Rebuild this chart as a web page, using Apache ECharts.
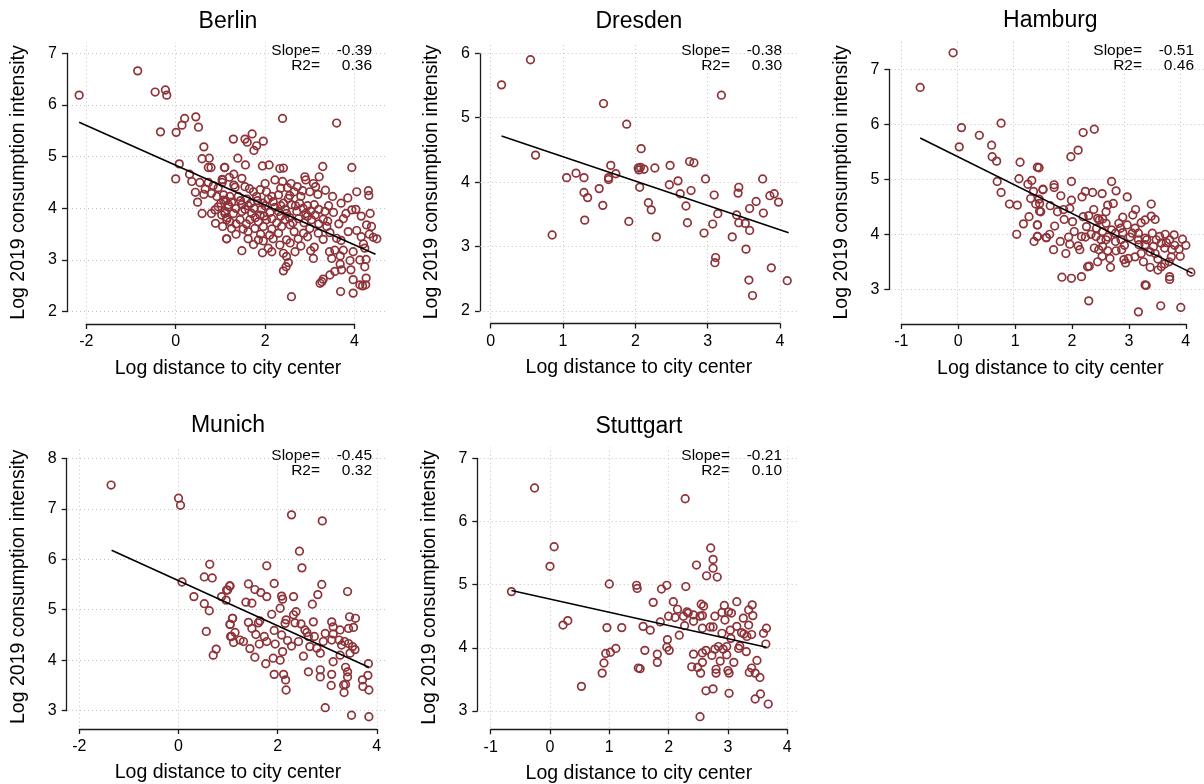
<!DOCTYPE html>
<html><head><meta charset="utf-8">
<script src="https://cdn.jsdelivr.net/npm/echarts@6/dist/echarts.min.js"></script>
<style>html,body{margin:0;padding:0;background:#fff}#c{width:1204px;height:784px}</style>
</head><body><div id="c"></div>
<script>
const cities = ['Berlin', 'Dresden', 'Hamburg', 'Munich', 'Stuttgart'];
const slopes = ['-0.39', '-0.38', '-0.51', '-0.45', '-0.21'];
const r2s = ['0.36', '0.30', '0.46', '0.32', '0.10'];
const xTitle = 'Log distance to city center';
const yTitle = 'Log 2019 consumption intensity';
const xTicks = [[-2, 0, 2, 4], [0, 1, 2, 3, 4], [-1, 0, 1, 2, 3, 4], [-2, 0, 2, 4], [-1, 0, 1, 2, 3, 4]];
const yTicks = [[2, 3, 4, 5, 6, 7], [2, 3, 4, 5, 6], [3, 4, 5, 6, 7], [3, 4, 5, 6, 7, 8], [3, 4, 5, 6, 7]];

const berlinPoints = [
[-2.16,6.19],[-0.85,6.66],[-0.46,6.25],[-0.23,6.29],[-0.20,6.19],[-0.34,5.48],[0.01,5.47],[0.14,5.61],[0.20,5.74],[0.45,5.77],[0.51,5.57],[0.63,5.19],[0.59,4.96],[0.75,4.97],[0.73,4.79],[0.79,4.79],[1.09,4.79],[0.08,4.86],[0.00,4.57],[0.31,4.66],[0.36,4.52],[0.54,4.50],[0.73,4.50],[0.84,4.44],[0.66,4.37],[0.44,4.31],[0.63,4.27],[0.80,4.29],[0.92,4.23],[1.04,4.56],[1.04,4.50],[0.49,4.12],[0.59,3.90],[0.80,3.90],[0.89,3.71],[1.14,3.41],[0.88,3.97],[0.95,4.03],[1.07,4.16],[1.10,3.90],[1.18,4.03],[1.14,3.78],[1.03,3.87],
[2.39,5.74],[3.60,5.65],[1.29,5.34],[1.55,5.34],[1.60,5.28],[1.71,5.44],[1.81,5.21],[1.96,5.30],[1.75,5.12],
[1.39,4.97],[1.56,4.84],[1.10,4.79],[1.94,4.82],[2.09,4.84],[2.33,4.77],[2.41,4.78],[3.29,4.81],[3.94,4.79],
[1.30,4.66],[1.48,4.58],[1.05,4.55],[2.22,4.55],[2.39,4.52],[2.58,4.48],[2.89,4.61],[2.91,4.55],[3.08,4.48],[3.21,4.61],[3.13,4.42],[1.33,4.41],[1.55,4.42],[1.74,4.32],[1.89,4.36],[2.03,4.32],[2.35,4.39],[2.84,4.34],[3.00,4.32],[3.18,4.27],[4.05,4.32],[4.31,4.34],[4.32,4.25],
[1.07,4.26],[1.21,4.23],[1.40,4.23],[1.59,4.18],[1.81,4.23],[2.15,4.23],[2.30,4.26],[2.52,4.19],[2.65,4.32],[2.80,4.23],[3.51,4.23],[1.01,4.10],[1.18,4.07],[1.48,4.07],[1.68,4.10],[1.95,4.10],[2.18,4.13],[2.41,4.10],[2.59,4.07],[2.77,4.10],[2.95,4.05],[3.10,4.07],
[1.10,3.94],[1.29,3.90],[1.48,3.94],[1.70,3.90],[1.89,3.87],[2.11,3.92],[2.30,3.94],[2.48,3.90],[2.71,3.94],[2.91,3.90],[3.12,3.87],[3.34,3.94],[3.53,3.92],[3.81,3.90],[3.94,3.97],[4.03,3.98],[1.21,3.74],[1.44,3.78],[1.66,3.78],[1.85,3.74],[2.03,3.78],[2.26,3.72],[2.45,3.78],[2.62,3.72],[2.87,3.72],[3.04,3.78],[3.30,3.79],
[1.05,3.65],[1.25,3.61],[1.51,3.60],[1.77,3.61],[1.96,3.65],[2.15,3.60],[2.37,3.65],[2.56,3.68],[2.86,3.52],[3.00,3.61],[3.19,3.52],[3.38,3.65],[3.45,3.53],[3.60,3.42],[3.86,3.55],[4.05,3.57],[4.27,3.68],[4.38,3.65],[4.33,3.50],[4.42,3.44],[4.50,3.41],[1.14,3.41],[1.62,3.41],[1.85,3.39],[1.96,3.37],[2.18,3.41],[2.48,3.39],[2.74,3.41],
[1.74,3.30],[2.07,3.23],[2.33,3.29],[2.56,3.33],[2.80,3.27],[1.48,3.18],[1.94,3.14],[2.15,3.16],[2.41,3.13],[2.67,3.16],[3.02,3.18],[3.10,3.25],[3.44,3.16],[3.56,3.19],[3.75,3.19],[3.97,3.16],[4.23,3.23],[4.20,3.31],[2.48,3.07],[3.08,3.03],[3.49,3.03],[3.68,3.08],[4.12,3.00],[4.26,3.01],
[2.52,2.95],[2.47,2.87],[2.41,2.79],[3.90,2.99],[3.68,2.92],[3.56,2.78],[3.71,2.81],[3.92,2.81],[4.23,2.87],[3.45,2.71],[3.30,2.63],[3.23,2.55],[3.27,2.58],[3.97,2.62],[4.26,2.65],[4.12,2.52],[4.18,2.50],[4.25,2.52],[3.69,2.39],[3.97,2.36],[2.59,2.29],
[1.12,4.15],[1.25,4.12],[1.35,4.00],[1.45,4.15],[1.55,3.98],[1.62,4.05],[1.75,4.00],[1.83,4.15],[1.92,3.98],[2.00,4.05],[2.07,4.18],[2.22,4.02],[2.35,4.05],[2.45,3.98],[2.55,4.25],[2.68,4.05],[2.85,4.00],[3.02,3.95],[3.20,3.98],[3.42,4.05],[1.15,3.82],[1.35,3.70],[1.58,3.70],[1.78,3.82],[1.98,3.85],[2.15,3.80],[2.35,3.85],[2.55,3.82],[2.75,3.80],[2.95,3.85],[3.20,3.70],[3.40,3.75],[3.65,3.70],[3.75,3.80],[1.35,3.50],[1.62,3.55],[1.90,3.50],[2.10,3.48],[2.30,3.52],[2.65,3.55],[2.95,3.45],[3.30,3.40],[3.70,3.38],[4.15,3.45],[1.30,4.45],[1.65,4.38],[2.00,4.48],[2.50,4.40],[2.72,4.42],[3.35,4.35],[3.70,4.10],[3.85,4.20],[4.15,3.85],[4.35,3.90],[0.95,4.40],[1.20,4.60]
];
const dresdenPoints = [
[0.15,5.51],[0.55,5.90],[0.62,4.42],[0.85,3.18],[1.05,4.07],[1.18,4.14],[1.29,4.07],[1.29,3.84],[1.34,3.76],[1.30,3.41],[1.50,3.90],[1.55,3.64],[1.56,5.22],[1.63,4.07],[1.63,4.04],[1.66,4.26],[1.73,4.13],[1.88,4.90],[1.91,3.39],[2.04,4.22],[2.05,4.19],[2.07,4.23],[2.12,4.20],[2.08,4.52],[2.06,3.92],[2.27,4.22],[2.18,3.68],[2.22,3.57],[2.29,3.15],[2.48,4.26],[2.47,3.96],[2.59,4.02],[2.62,3.82],[2.70,3.63],[2.72,3.37],[2.75,4.32],[2.81,4.30],[2.77,3.87],[2.97,4.05],[2.95,3.21],[3.07,3.35],[3.09,3.80],[3.14,3.51],[3.19,5.35],[3.11,2.83],[3.10,2.75],[3.34,3.15],[3.40,3.49],[3.43,3.92],[3.42,3.83],[3.43,3.37],[3.52,3.36],[3.53,2.96],[3.58,3.59],[3.58,3.25],[3.57,2.48],[3.62,2.24],[3.67,3.70],[3.76,4.05],[3.77,3.52],[3.86,3.79],[3.92,3.82],[3.88,2.67],[3.98,3.69],[4.10,2.47]
];
const hamburgPoints = [
[-0.66,6.67],[-0.07,7.30],[0.08,5.94],[0.04,5.59],[0.40,5.80],[0.62,5.62],[0.63,5.41],[0.71,5.33],[0.79,6.02],[0.72,4.96],[0.79,4.76],[0.94,4.55],[1.08,4.53],[1.07,4.00],[1.13,5.31],[1.11,5.01],[1.44,5.22],[1.27,4.91],[1.34,4.98],[1.37,4.78],[1.54,4.81],[1.32,4.65],[1.41,4.55],[1.48,4.42],[1.29,4.32],[1.19,4.19],[1.44,4.17],[1.38,3.87],[1.44,3.96],[1.60,3.94],[1.47,4.64],
[2.26,5.85],[2.46,5.91],[2.17,5.53],[2.04,5.41],[1.47,5.21],[1.54,4.82],[1.74,4.90],[1.74,4.85],[2.05,4.96],[1.86,4.70],[2.05,4.62],[2.24,4.68],[2.30,4.78],[2.43,4.76],[2.60,4.74],[2.77,4.96],[2.85,4.79],[3.05,4.68],[3.48,4.55],[1.48,4.56],[1.50,4.41],[1.67,4.52],[1.80,4.41],[1.91,4.45],[2.02,4.47],[2.70,4.53],[2.80,4.56],[2.67,4.41],[1.92,4.27],[2.07,4.23],[2.26,4.32],[2.36,4.34],[2.52,4.29],[2.61,4.28],[2.97,4.31],[3.15,4.35],[3.37,4.26],[3.48,4.33],[3.55,4.27],
[1.44,4.17],[1.44,3.96],[1.60,3.94],[1.66,4.00],[1.85,3.87],[1.73,3.72],[1.95,3.65],[2.02,3.82],[2.17,3.79],[2.20,3.72],[2.23,3.96],[2.32,4.14],[2.50,4.11],[2.55,4.26],[2.61,4.05],[2.67,4.20],[2.49,3.96],[2.58,3.90],[2.67,3.90],[2.46,3.75],[2.54,3.72],[2.61,3.78],[2.70,3.70],[2.77,4.08],[2.84,4.02],[2.93,4.11],[2.97,4.03],[3.05,4.17],[3.14,4.02],[2.84,3.87],[2.94,3.90],[3.19,4.11],[3.25,4.02],[3.30,4.21],[3.25,3.90],[3.26,3.81],[3.37,3.93],[3.50,4.02],[3.57,3.90],[3.63,3.96],[3.73,4.00],[3.81,3.90],[3.89,3.99],[4.04,3.91],[3.98,3.73],[3.85,3.72],[3.66,3.84],[3.72,3.75],[3.52,3.78],[3.46,3.68],[3.37,3.81],
[2.85,3.70],[2.74,3.56],[2.75,3.40],[2.52,3.50],[2.37,3.42],[2.34,3.41],[2.23,3.23],[2.05,3.20],[1.88,3.22],[2.95,3.72],[2.99,3.54],[3.07,3.56],[3.02,3.48],[3.19,3.59],[3.34,3.50],[3.46,3.40],[3.60,3.35],[3.66,3.41],[3.72,3.46],[3.80,3.50],[3.84,3.59],[3.81,3.23],[3.81,3.18],[3.37,3.08],[3.39,3.07],[2.36,2.79],[3.25,2.59],[3.65,2.70],[4.01,2.67],[4.19,3.31],
[2.40,4.00],[2.70,3.95],[3.00,3.80],[3.10,3.95],[3.40,3.90],[3.55,3.65],[3.90,3.80],[4.10,3.80],[2.90,4.20],[2.30,3.95],[2.10,4.05],[1.75,4.15],[3.60,3.55],[3.30,3.65],[2.60,3.60],[4.00,3.60],[3.75,3.85],[2.45,4.45],[2.00,3.95],[3.20,4.45]
];
const munichPoints = [
[-1.36,7.47],[0.00,7.21],[0.04,7.07],[0.07,5.55],[0.63,5.90],[0.52,5.65],[0.68,5.63],[0.31,5.26],[0.52,5.12],[0.62,4.98],[0.56,4.57],[0.76,4.22],[0.70,4.10],[0.87,5.26],[0.97,5.39],[1.03,5.47],[0.96,5.19],[1.09,4.83],[1.04,4.71],[1.05,4.47],[1.11,4.35],
[2.28,6.88],[2.90,6.76],[2.44,6.16],[2.49,5.83],[1.78,5.87],[1.04,5.47],[0.99,5.39],[1.41,5.51],[1.54,5.40],[1.66,5.34],[1.78,5.26],[1.93,5.52],[2.08,5.27],[2.10,5.21],[2.32,5.26],[2.89,5.50],[2.81,5.30],[3.41,5.36],[2.70,5.11],[1.36,5.15],[1.48,5.13],[1.88,4.91],[2.05,5.03],[2.37,4.96],[2.32,4.90],
[1.09,4.83],[1.04,4.71],[1.41,4.75],[1.61,4.74],[1.64,4.78],[2.17,4.80],[2.15,4.73],[2.35,4.74],[2.47,4.72],[2.72,4.76],[2.55,4.60],[2.59,4.55],[3.09,4.76],[3.12,4.66],[3.26,4.60],[3.45,4.86],[3.57,4.83],[3.53,4.65],[3.43,4.63],
[1.07,4.47],[1.14,4.55],[1.24,4.40],[1.31,4.37],[1.44,4.23],[1.48,4.63],[1.56,4.51],[1.73,4.47],[1.63,4.32],[1.78,4.37],[1.93,4.59],[1.95,4.32],[2.08,4.50],[2.20,4.39],[2.28,4.28],[2.42,4.37],[2.62,4.47],[2.74,4.47],[2.65,4.27],[2.79,4.24],[2.92,4.37],[2.96,4.53],[3.09,4.40],[3.12,4.52],[3.24,4.40],[3.29,4.30],[3.35,4.37],[3.43,4.33],[3.51,4.27],[3.56,4.21],[3.46,4.14],[2.86,4.14],[2.52,4.08],[2.05,4.00],[1.91,4.04],[1.76,3.93],[1.54,4.06],[2.10,4.17],[3.12,3.97],[3.26,4.10],
[2.62,3.77],[2.86,3.81],[2.86,3.67],[3.09,3.72],[3.37,3.86],[3.41,3.77],[3.41,3.67],[3.33,3.51],[3.37,3.52],[3.34,3.36],[3.71,3.61],[3.82,3.70],[3.83,3.93],[3.72,3.48],[3.84,3.41],[3.08,3.50],[1.93,3.72],[2.12,3.72],[2.16,3.61],[2.17,3.41],[2.96,3.06],[3.49,2.91],[3.84,2.88]
];
const stuttgartPoints = [
[-0.65,4.89],[-0.26,6.53],[0.07,5.60],[0.00,5.29],[0.22,4.36],[0.30,4.43],[0.53,3.39],[0.88,3.60],[0.91,3.76],[0.94,3.91],[1.02,3.93],[1.11,3.99],[0.96,4.32],[1.21,4.32],[1.00,5.01],[1.46,4.99],[1.47,4.94],[1.49,3.68],
[2.28,6.36],[2.71,5.58],[2.75,5.40],[2.75,5.26],[2.64,5.14],[2.82,5.12],[2.47,5.31],[1.88,4.93],[1.97,4.99],[2.29,4.97],[1.74,4.72],[2.08,4.73],[2.15,4.61],[2.00,4.50],[2.11,4.48],[1.86,4.41],[2.25,4.50],[2.31,4.57],[2.33,4.55],[2.42,4.52],[2.55,4.69],[2.59,4.66],[2.53,4.50],[2.57,4.51],[2.42,4.42],[2.27,4.35],[2.78,4.50],[2.94,4.67],[2.90,4.56],[3.01,4.57],[3.06,4.55],[3.15,4.73],[3.35,4.60],[3.41,4.68],[3.26,4.47],[3.42,4.51],[3.35,4.36],
[2.70,4.33],[2.75,4.33],[2.57,4.31],[2.95,4.44],[3.15,4.34],[3.04,4.28],[3.05,4.15],[2.90,4.23],[3.23,4.24],[3.27,4.22],[3.32,4.18],[3.40,4.21],[3.60,4.23],[3.65,4.31],[3.64,4.06],[1.57,4.34],[1.69,4.28],[2.18,4.20],[1.98,4.13],[1.97,4.01],[2.01,3.96],[1.60,3.96],[1.81,3.90],[1.81,3.77],[1.52,3.67],
[2.42,3.90],[2.57,3.92],[2.63,3.96],[2.73,3.88],[2.78,3.98],[2.84,4.02],[2.92,3.98],[2.98,4.02],[2.87,3.79],[2.98,3.89],[3.10,3.77],[3.18,3.99],[3.20,4.03],[3.31,3.94],[3.49,3.80],[2.39,3.70],[2.49,3.69],[2.57,3.77],[2.54,3.60],[2.80,3.66],[2.80,3.60],[3.00,3.64],[3.02,3.60],[3.36,3.61],[3.40,3.68],[3.46,3.60],[3.54,3.53],[2.63,3.32],[2.75,3.35],[3.02,3.28],[3.46,3.19],[3.55,3.27],[3.68,3.11],[2.53,2.91]
];

const berlinFit = [[-2.16, 5.665], [4.47, 3.11]];
const dresdenFit = [[0.15, 4.716], [4.12, 3.215]];
const hamburgFit = [[-0.66, 5.75], [4.22, 3.29]];
const munichFit = [[-1.35, 6.177], [3.84, 3.859]];
const stuttgartFit = [[-0.65, 4.906], [3.65, 4.01]];

const pointsBy = [berlinPoints, dresdenPoints, hamburgPoints, munichPoints, stuttgartPoints];
const fitsBy = [berlinFit, dresdenFit, hamburgFit, munichFit, stuttgartFit];

// Layout (pixels): pixel position of first/last tick, plot region box, axis line positions
const layout = [
  { xPx: [86.3, 354.5], yPx: [311.7, 53.3], reg: [68, 42.3, 388, 322.7], xLineY: 324, yLineX: 67 },
  { xPx: [490.7, 780.0], yPx: [311.0, 53.3], reg: [479.7, 42.3, 798, 322], xLineY: 323.5, yLineX: 480 },
  { xPx: [901.4, 1185.8], yPx: [289.3, 69.3], reg: [890.7, 41.8, 1210, 322.9], xLineY: 324, yLineX: 889.3 },
  { xPx: [79.4, 376.8], yPx: [710.7, 458.3], reg: [68, 447, 388, 726.7], xLineY: 729, yLineX: 66.7 },
  { xPx: [490.7, 787.2], yPx: [711.0, 458.3], reg: [479.7, 447.3, 798, 727.7], xLineY: 729.3, yLineX: 477.3 }
];

const FONT = '"Liberation Sans", Arial, Helvetica, sans-serif';
const MARKER = '#8E3339';
const AXIS = '#1a1a1a';

const grid = [], xAxis = [], yAxis = [], series = [], graphic = [];
const N = layout.length;

layout.forEach((L, i) => {
  const xt = xTicks[i], yt = yTicks[i];
  const xv0 = xt[0], xv1 = xt[xt.length - 1], yv0 = yt[0], yv1 = yt[yt.length - 1];
  const xAt = p => xv0 + (p - L.xPx[0]) * (xv1 - xv0) / (L.xPx[1] - L.xPx[0]);
  const yAt = p => yv0 + (p - L.yPx[0]) * (yv1 - yv0) / (L.yPx[1] - L.yPx[0]);
  const [rl, rt, rr, rb] = L.reg;
  grid[i] = { left: rl, top: rt, width: rr - rl, height: rb - rt, containLabel: false };
  xAxis[i] = { type: 'value', gridIndex: i, min: xAt(rl), max: xAt(rr), show: false };
  yAxis[i] = { type: 'value', gridIndex: i, min: yAt(rb), max: yAt(rt), show: false };
  const gi = N + i;
  grid[gi] = { left: L.xPx[0], top: L.yPx[1], width: L.xPx[1] - L.xPx[0], height: L.yPx[0] - L.yPx[1], containLabel: false };
  const lineStyle = { color: AXIS, width: 1.3 };
  xAxis[gi] = {
    type: 'value', gridIndex: gi, min: xv0, max: xv1, interval: xt[1] - xt[0], position: 'bottom',
    offset: L.xLineY - L.yPx[0],
    axisLine: { show: true, onZero: false, lineStyle },
    axisTick: { show: true, inside: false, length: 5, lineStyle },
    axisLabel: { show: true, fontSize: 16, fontFamily: FONT, color: '#000', margin: 10, showMinLabel: true, showMaxLabel: true },
    splitLine: { show: false }
  };
  yAxis[gi] = {
    type: 'value', gridIndex: gi, min: yv0, max: yv1, interval: yt[1] - yt[0], position: 'left',
    offset: L.xPx[0] - L.yLineX,
    axisLine: { show: true, onZero: false, lineStyle },
    axisTick: { show: true, inside: false, length: 5, lineStyle },
    axisLabel: { show: true, fontSize: 16, fontFamily: FONT, color: '#000', margin: 10, showMinLabel: true, showMaxLabel: true },
    splitLine: { show: false }
  };
  series.push({
    type: 'scatter', xAxisIndex: i, yAxisIndex: i, data: pointsBy[i], symbol: 'circle', symbolSize: 7.6,
    itemStyle: { color: 'rgba(0,0,0,0)', borderColor: MARKER, borderWidth: 1.7, opacity: 1 },
    silent: true, z: 2, animation: false
  });
  series.push({
    type: 'line', xAxisIndex: i, yAxisIndex: i, data: fitsBy[i], symbol: 'none', showSymbol: false,
    lineStyle: { color: '#000', width: 1.6 }, silent: true, z: 3, animation: false,
    markLine: {
      silent: true, symbol: 'none', z: 1, animation: false, label: { show: false },
      lineStyle: { color: '#c4c4c4', type: [1, 3], width: 1 },
      emphasis: { disabled: true },
      data: xt.map(v => ({ xAxis: v })).concat(yt.map(v => ({ yAxis: v })))
    }
  });
  const cx = (rl + rr) / 2;
  graphic.push({ type: 'text', x: cx, y: rt - 21, silent: true,
    style: { text: cities[i], font: '23px ' + FONT, fill: '#000', textAlign: 'center', textVerticalAlign: 'middle' } });
  graphic.push({ type: 'text', x: cx, y: rb + 46, silent: true,
    style: { text: xTitle, font: '19.5px ' + FONT, fill: '#000', textAlign: 'center', textVerticalAlign: 'middle' } });
  graphic.push({ type: 'text', x: L.yLineX - 48, y: (rt + rb) / 2, rotation: Math.PI / 2, silent: true,
    style: { text: yTitle, font: '19.5px ' + FONT, fill: '#000', textAlign: 'center', textVerticalAlign: 'middle' } });
  const sf = '15.5px ' + FONT;
  graphic.push({ type: 'text', x: rr - 68, y: rt + 8.5, silent: true,
    style: { text: 'Slope=', font: sf, fill: '#000', textAlign: 'right', textVerticalAlign: 'middle' } });
  graphic.push({ type: 'text', x: rr - 16, y: rt + 8.5, silent: true,
    style: { text: slopes[i], font: sf, fill: '#000', textAlign: 'right', textVerticalAlign: 'middle' } });
  graphic.push({ type: 'text', x: rr - 68, y: rt + 23.5, silent: true,
    style: { text: 'R2=', font: sf, fill: '#000', textAlign: 'right', textVerticalAlign: 'middle' } });
  graphic.push({ type: 'text', x: rr - 16, y: rt + 23.5, silent: true,
    style: { text: r2s[i], font: sf, fill: '#000', textAlign: 'right', textVerticalAlign: 'middle' } });
});

const chart = echarts.init(document.getElementById('c'), null, { renderer: 'canvas' });
chart.setOption({
  backgroundColor: '#fff',
  animation: false,
  grid, xAxis, yAxis, series, graphic
});
</script>
</body></html>
